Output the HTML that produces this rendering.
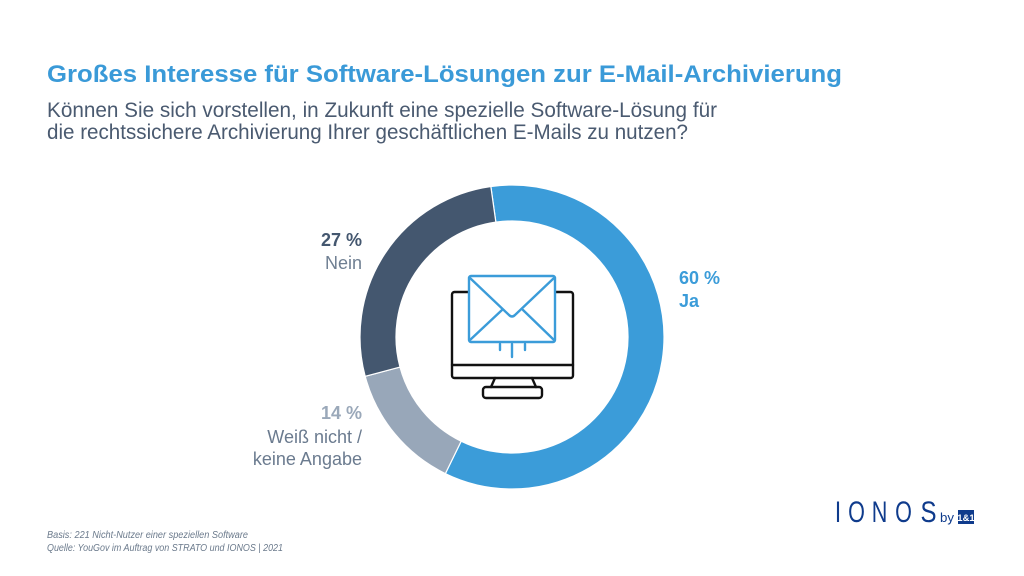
<!DOCTYPE html>
<html>
<head>
<meta charset="utf-8">
<style>
html,body{margin:0;padding:0;background:#fff;}
svg{display:block;}
text{font-family:"Liberation Sans","DejaVu Sans",sans-serif;}
</style>
</head>
<body>
<svg width="1024" height="576" viewBox="0 0 1024 576" xmlns="http://www.w3.org/2000/svg">
<rect width="1024" height="576" fill="#ffffff"/>

<!-- Title -->
<text x="47" y="82" font-size="24.5" font-weight="bold" fill="#3a9ad8" textLength="795" lengthAdjust="spacingAndGlyphs">Großes Interesse für Software-Lösungen zur E-Mail-Archivierung</text>
<text x="47" y="117" font-size="21" fill="#4a5a70" textLength="670" lengthAdjust="spacingAndGlyphs">Können Sie sich vorstellen, in Zukunft eine spezielle Software-Lösung für</text>
<text x="47" y="139" font-size="21" fill="#4a5a70" textLength="641" lengthAdjust="spacingAndGlyphs">die rechtssichere Archivierung Ihrer geschäftlichen E-Mails zu nutzen?</text>

<!-- Donut -->
<g stroke="#ffffff" stroke-width="1.2" stroke-linejoin="round">
<path d="M490.84,186.48 A152,152 0 1 1 445.37,473.62 L461.15,441.26 A116,116 0 1 0 495.85,222.13 Z" fill="#3b9cd9"/>
<path d="M445.37,473.62 A152,152 0 0 1 365.18,376.34 L399.95,367.02 A116,116 0 0 0 461.15,441.26 Z" fill="#98a7b9"/>
<path d="M365.18,376.34 A152,152 0 0 1 490.84,186.48 L495.85,222.13 A116,116 0 0 0 399.95,367.02 Z" fill="#44576f"/>
</g>

<!-- Monitor icon -->
<g fill="none" stroke="#111111" stroke-width="2.4" stroke-linejoin="round" stroke-linecap="round">
<rect x="452" y="292" width="121" height="86" rx="2.5"/>
<line x1="452" y1="365" x2="573" y2="365"/>
<path d="M495,378 L491,387 M532,378 L536,387"/>
<rect x="483" y="387" width="59" height="11" rx="3"/>
</g>
<g fill="none" stroke="#3b9cd9" stroke-width="2.4" stroke-linejoin="round" stroke-linecap="round">
<rect x="469" y="276" width="86" height="66" rx="2" fill="#ffffff"/>
<path d="M470,278 L509,315 Q512,318 515,315 L554,278"/>
<path d="M470,340 L502,310 M523,310 L554,340"/>
<path d="M500,344 L500,350 M512,344 L512,357 M525,344 L525,350"/>
</g>

<!-- Labels -->
<text x="362" y="246" font-size="18" font-weight="bold" fill="#44576f" text-anchor="end">27 %</text>
<text x="362" y="269" font-size="18" fill="#6f7f92" text-anchor="end">Nein</text>

<text x="362" y="419" font-size="18" font-weight="bold" fill="#9aa8b9" text-anchor="end">14 %</text>
<text x="362" y="443" font-size="18" fill="#6b7b8f" text-anchor="end">Weiß nicht /</text>
<text x="362" y="465" font-size="18" fill="#6b7b8f" text-anchor="end">keine Angabe</text>

<text x="679" y="284" font-size="18" font-weight="bold" fill="#3b9cd9">60 %</text>
<text x="679" y="307" font-size="18" font-weight="bold" fill="#3b9cd9">Ja</text>

<!-- Footnote -->
<text x="47" y="538" font-size="10" font-style="italic" fill="#6b7a8c" textLength="201" lengthAdjust="spacingAndGlyphs">Basis: 221 Nicht-Nutzer einer speziellen Software</text>
<text x="47" y="551" font-size="10" font-style="italic" fill="#6b7a8c" textLength="236" lengthAdjust="spacingAndGlyphs">Quelle: YouGov im Auftrag von STRATO und IONOS | 2021</text>

<!-- Logo -->
<g fill="#0f3b8c" font-size="30" text-anchor="middle">
<text transform="translate(838,522) scale(0.75,1)" x="0" y="0">I</text>
<text transform="translate(856.5,522) scale(0.72,1)" x="0" y="0">O</text>
<text transform="translate(879.5,522) scale(0.72,1)" x="0" y="0">N</text>
<text transform="translate(903.5,522) scale(0.72,1)" x="0" y="0">O</text>
<text transform="translate(928.5,522) scale(0.8,1)" x="0" y="0">S</text>
</g>
<text x="940" y="522" font-size="13" fill="#0f3b8c" textLength="14" lengthAdjust="spacingAndGlyphs">by</text>
<rect x="958" y="510" width="16" height="14" fill="#0f3b8c"/>
<text x="966" y="521" font-size="9.5" font-weight="bold" fill="#ffffff" text-anchor="middle">1&amp;1</text>
</svg>
</body>
</html>
